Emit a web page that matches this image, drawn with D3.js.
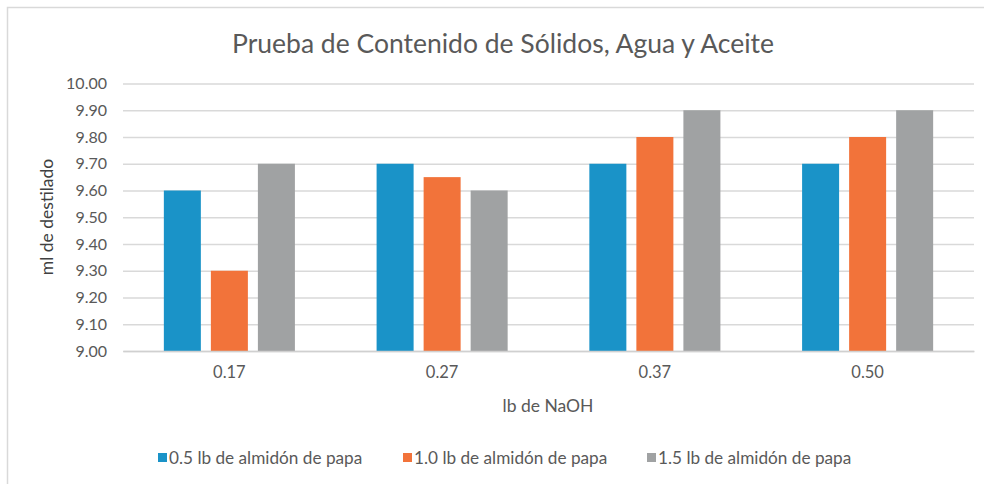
<!DOCTYPE html>
<html>
<head>
<meta charset="utf-8">
<script src="https://cdn.jsdelivr.net/npm/d3@7"></script>
<style>
  body { margin: 0; background: #fff; }
  svg { display: block; font-family: Lato, "Open Sans", sans-serif; }
</style>
</head>
<body>
<div id="chart"></div>
<script>
var width = 984;
var height = 484;

// data
var categories = ["0.17", "0.27", "0.37", "0.50"];
var seriesNames = ["0.5 lb de almidón de papa", "1.0 lb de almidón de papa", "1.5 lb de almidón de papa"];
var serie05 = [9.60, 9.70, 9.70, 9.70];
var serie10 = [9.30, 9.65, 9.80, 9.80];
var serie15 = [9.70, 9.60, 9.90, 9.90];
var yTicks = [9.0, 9.1, 9.2, 9.3, 9.4, 9.5, 9.6, 9.7, 9.8, 9.9, 10.0];

var colors = ["#1a93c8", "#f2733a", "#a0a2a3"];
var textColor = "#595959";

var plotLeft = 123;
var plotRight = 974;
var plotTop = 83.5;
var plotBottom = 351;

var svg = d3.select("#chart").append("svg")
    .attr("width", width)
    .attr("height", height);

// chart frame
svg.append("rect")
    .attr("x", 7.5)
    .attr("y", 7.5)
    .attr("width", width + 10)
    .attr("height", height + 10)
    .attr("fill", "none")
    .attr("stroke", "#d9d9d9")
    .attr("stroke-width", 1.5);

var x = d3.scaleBand()
    .domain(categories)
    .range([plotLeft, plotRight])
    .paddingInner(0.384)
    .paddingOuter(0.192);

var xInner = d3.scaleBand()
    .domain(d3.range(seriesNames.length))
    .range([0, x.bandwidth()])
    .paddingInner(0.213);

var y = d3.scaleLinear()
    .domain([9.0, 10.0])
    .range([plotBottom, plotTop]);

// gridlines
var yAxis = d3.axisLeft(y)
    .tickValues(yTicks)
    .tickSize(-(plotRight - plotLeft))
    .tickPadding(16)
    .tickFormat(d3.format(".2f"));

var yAxisGroup = svg.append("g")
    .attr("transform", "translate(" + plotLeft + ",0)")
    .call(yAxis);
yAxisGroup.select(".domain").remove();
yAxisGroup.selectAll("line").attr("stroke", "#d9d9d9").attr("stroke-width", 1.5);
yAxisGroup.selectAll("text")
    .attr("fill", textColor)
    .attr("font-size", "16px")
    .attr("font-family", "Lato, sans-serif");

// bars
var seriesValues = [serie05, serie10, serie15];
var rows = [];
categories.forEach(function (cat, i) {
    seriesValues.forEach(function (vals, s) {
        rows.push({ cat: cat, s: s, v: vals[i] });
    });
});

svg.append("g").selectAll("rect")
    .data(rows)
    .enter()
    .append("rect")
    .attr("x", function (d) { return x(d.cat) + xInner(d.s); })
    .attr("y", function (d) { return y(d.v); })
    .attr("width", xInner.bandwidth())
    .attr("height", function (d) { return y(9.0) - y(d.v); })
    .attr("fill", function (d) { return colors[d.s]; });

// category axis
var xAxis = d3.axisBottom(x).tickSize(0).tickPadding(15);
var xAxisGroup = svg.append("g")
    .attr("transform", "translate(0," + plotBottom + ")")
    .call(xAxis);
xAxisGroup.select(".domain").attr("stroke", "#d0d0d0").attr("stroke-width", 1.5);
xAxisGroup.selectAll("text")
    .attr("fill", textColor)
    .attr("font-size", "16.5px")
    .attr("font-family", "Lato, sans-serif");

// titles
svg.append("text")
    .attr("x", 503)
    .attr("y", 53)
    .attr("text-anchor", "middle")
    .attr("font-size", "26.5px")
    .attr("fill", textColor)
    .text("Prueba de Contenido de Sólidos, Agua y Aceite");

svg.append("text")
    .attr("transform", "translate(53,217) rotate(-90)")
    .attr("text-anchor", "middle")
    .attr("font-size", "17.5px")
    .attr("fill", "#404040")
    .text("ml de destilado");

svg.append("text")
    .attr("x", 548)
    .attr("y", 412)
    .attr("text-anchor", "middle")
    .attr("font-size", "17.5px")
    .attr("fill", textColor)
    .text("lb de NaOH");

// legend
var legendX = [158, 403, 647];
var legend = svg.append("g").selectAll("g")
    .data(seriesNames)
    .enter()
    .append("g")
    .attr("transform", function (d, i) { return "translate(" + legendX[i] + ",458)"; });

legend.append("rect")
    .attr("x", 0)
    .attr("y", -5)
    .attr("width", 9)
    .attr("height", 9)
    .attr("fill", function (d, i) { return colors[i]; });

legend.append("text")
    .attr("x", 11)
    .attr("y", 5.5)
    .attr("font-size", "17.2px")
    .attr("fill", textColor)
    .text(function (d) { return d; });
</script>
</body>
</html>
